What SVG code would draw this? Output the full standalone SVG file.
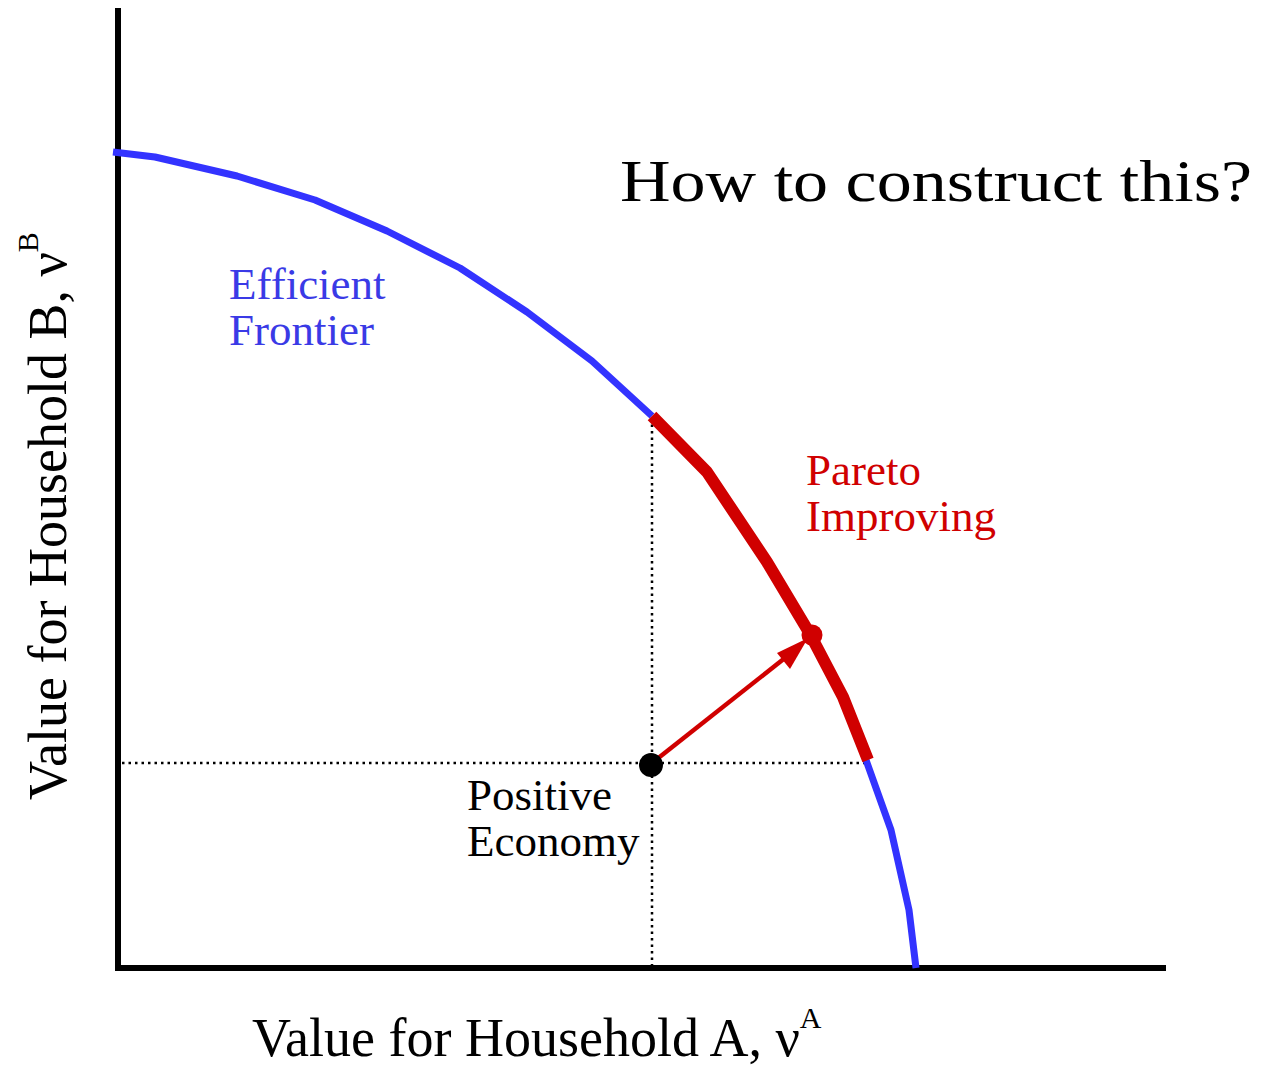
<svg xmlns="http://www.w3.org/2000/svg" width="1262" height="1066" viewBox="0 0 1262 1066">
<style>
.t{font-family:"Liberation Serif","Times New Roman",serif;}
.axis{stroke:#000;stroke-width:6;fill:none;}
.dot{stroke:#000;stroke-width:2.5;stroke-dasharray:2.5 4;fill:none;}
.blue{stroke:#3333ff;stroke-width:7;fill:none;stroke-linejoin:round;}
.red{stroke:#d00000;stroke-width:12;fill:none;stroke-linejoin:round;}
</style>
<g id="axes">
<line class="axis" x1="118" y1="8" x2="118" y2="971"/>
<line class="axis" x1="115" y1="968" x2="1166" y2="968"/>
</g>
<g id="connectors">
<line class="dot" x1="652" y1="418" x2="652" y2="966"/>
<line class="dot" x1="122" y1="763" x2="866" y2="763"/>
<polyline class="blue" points="113,152 155,157 237,176 315,200 387,231 460,268 527,312 592,361 652,416"/>
<polyline class="blue" points="866,760 891,830 909,910 916,968"/>
<polyline class="red" points="652,416 707,472 767,562 810,634 843,697 868,760"/>
<line x1="652" y1="763" x2="795" y2="650" stroke="#d00000" stroke-width="4.5"/>
<path d="M808,638 L790,669 L777,653 z" fill="#d00000"/>
</g>
<g id="points">
<circle cx="812" cy="635" r="10.5" fill="#d00000"/>
<circle cx="651" cy="765" r="12" fill="#000"/>
</g>
<g id="labels">
<text class="t" x="620" y="201" font-size="60" fill="#000" textLength="632" lengthAdjust="spacingAndGlyphs">How to construct this?</text>
<text class="t" x="229" y="299" font-size="45" fill="#3a3ae6">Efficient</text>
<text class="t" x="229" y="345" font-size="45" fill="#3a3ae6">Frontier</text>
<text class="t" x="806" y="485" font-size="45" fill="#d00000">Pareto</text>
<text class="t" x="806" y="531" font-size="45" fill="#d00000">Improving</text>
<text class="t" x="467" y="810" font-size="45" fill="#000">Positive</text>
<text class="t" x="467" y="856" font-size="45" fill="#000">Economy</text>
<text class="t" x="252" y="1056" font-size="54" fill="#000">Value for Household A, ν<tspan font-size="30" dy="-28">A</tspan></text>
<text class="t" transform="translate(66,800) rotate(-90)" font-size="54" fill="#000">Value for Household B, ν<tspan font-size="30" dy="-28">B</tspan></text>
</g>
</svg>
